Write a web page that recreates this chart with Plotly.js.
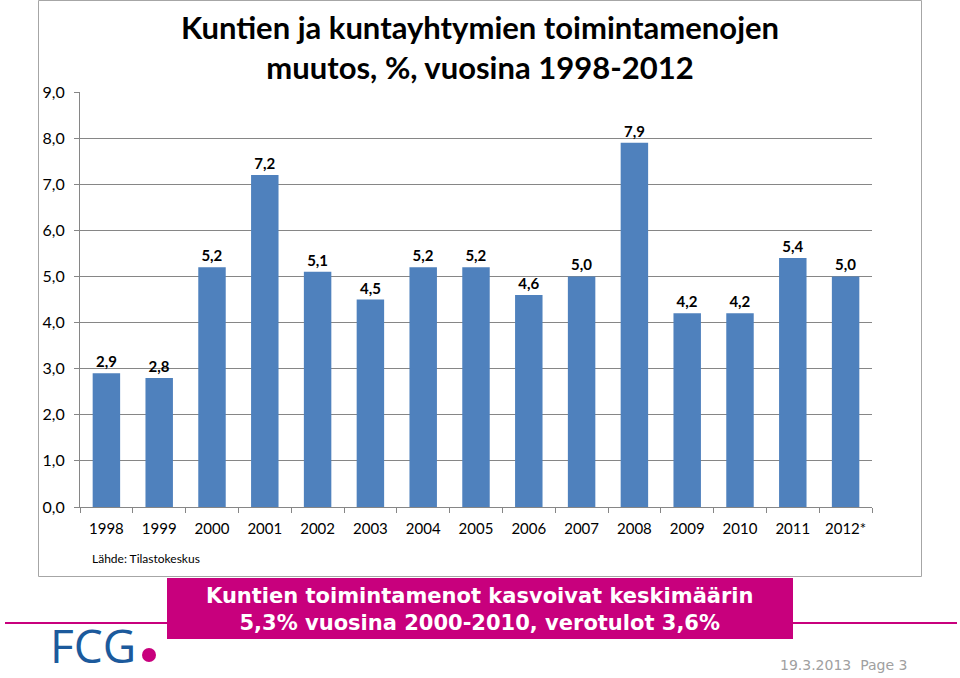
<!DOCTYPE html>
<html>
<head>
<meta charset="utf-8">
<script src="https://cdn.plot.ly/plotly-3.0.1.min.js"></script>
<style>html,body{margin:0;padding:0;background:#fff;}#chart{width:960px;height:678px;}</style>
</head>
<body>
<div id="chart"></div>
<script>
const years = ["1998","1999","2000","2001","2002","2003","2004","2005","2006","2007","2008","2009","2010","2011","2012*"];
const changes = [2.9, 2.8, 5.2, 7.2, 5.1, 4.5, 5.2, 5.2, 4.6, 5.0, 7.9, 4.2, 4.2, 5.4, 5.0];
const yTicks = [0,1,2,3,4,5,6,7,8,9];

const titleText = "Kuntien ja kuntayhtymien toimintamenojen<br>muutos, %, vuosina 1998-2012";
const sourceText = "Lähde: Tilastokeskus";
const boxText = "Kuntien toimintamenot kasvoivat keskimäärin<br>5,3% vuosina 2000-2010, verotulot 3,6%";
const logoText = "FCG";
const footerText = "19.3.2013  Page 3";

// plot area in pixels
const L = 80, R = 872, T = 92, B = 507;
const W = 960, H = 678;
const px = x => (x - L) / (R - L);
const py = y => (B - y) / (B - T);

const magenta = "#C8007D";
const calibri = "Lato, 'Liberation Sans', sans-serif";
const verdana = "'DejaVu Sans', Verdana, sans-serif";

const trace = {
  type: "bar",
  x: years,
  y: changes,
  marker: {color: "#4F81BD"},
  width: 0.52,
  text: changes.map(v => v.toFixed(1).replace(".", ",")),
  textposition: "outside",
  textfont: {family: calibri, size: 15, color: "#000", weight: "bold"},
  cliponaxis: false,
  hoverinfo: "skip"
};

const layout = {
  width: W, height: H,
  margin: {l: L, r: W - R, t: T, b: H - B, pad: 0},
  paper_bgcolor: "#fff",
  plot_bgcolor: "#fff",
  separators: ",.",
  showlegend: false,
  title: {
    text: titleText,
    font: {family: calibri, size: 31, color: "#000", weight: "bold"},
    x: 0.5, xref: "container", xanchor: "center",
    y: 1 - 39 / H, yref: "container", yanchor: "middle"
  },
  xaxis: {
    type: "category",
    tickson: "boundaries",
    tickangle: 0,
    ticks: "outside", ticklen: 5, tickcolor: "#868686", tickwidth: 1,
    ticklabelstandoff: 8,
    showline: true, linecolor: "#868686", linewidth: 1,
    showgrid: false,
    tickfont: {family: calibri, size: 15, color: "#000"},
    fixedrange: true
  },
  yaxis: {
    range: [0, 9],
    tickvals: yTicks,
    tickformat: ".1f",
    ticks: "outside", ticklen: 5, tickcolor: "#868686", tickwidth: 1,
    ticklabelstandoff: 6,
    showline: true, linecolor: "#868686", linewidth: 1,
    showgrid: true, gridcolor: "#868686", gridwidth: 1,
    zeroline: false,
    tickfont: {family: calibri, size: 16, color: "#000"},
    fixedrange: true
  },
  shapes: [
    {type: "rect", xref: "paper", yref: "paper", x0: px(38.5), x1: px(921.5), y0: py(576.5), y1: py(0.5),
     line: {color: "#A6A6A6", width: 1}, fillcolor: "rgba(0,0,0,0)", layer: "below"},
    {type: "line", xref: "paper", yref: "paper", x0: px(5), x1: px(957), y0: py(623), y1: py(623),
     line: {color: magenta, width: 2}},
    {type: "rect", xref: "paper", yref: "paper", x0: px(167), x1: px(793), y0: py(639), y1: py(578),
     line: {width: 0}, fillcolor: magenta},
    {type: "circle", xref: "paper", yref: "paper", x0: px(142), x1: px(156), y0: py(662), y1: py(648),
     line: {width: 0}, fillcolor: magenta}
  ],
  annotations: [
    {text: sourceText, xref: "paper", yref: "paper", x: px(90), y: py(558), xanchor: "left", yanchor: "middle",
     showarrow: false, font: {family: calibri, size: 12, color: "#000"}},
    {text: boxText, xref: "paper", yref: "paper", x: px(480), y: py(609), xanchor: "center", yanchor: "middle",
     showarrow: false, font: {family: verdana, size: 21, color: "#fff", weight: "bold"}},
    {text: logoText, xref: "paper", yref: "paper", x: px(49), y: py(677), xanchor: "left", yanchor: "bottom",
     borderpad: 0,
     showarrow: false, font: {family: "'Open Sans', sans-serif", size: 46, color: "#1C5A9C"}},
    {text: footerText, xref: "paper", yref: "paper", x: px(909), y: py(665), xanchor: "right", yanchor: "middle",
     showarrow: false, font: {family: verdana, size: 14, color: "#A0A0A0"}}
  ]
};

Plotly.newPlot("chart", [trace], layout, {displayModeBar: false, staticPlot: true});
</script>
</body>
</html>
